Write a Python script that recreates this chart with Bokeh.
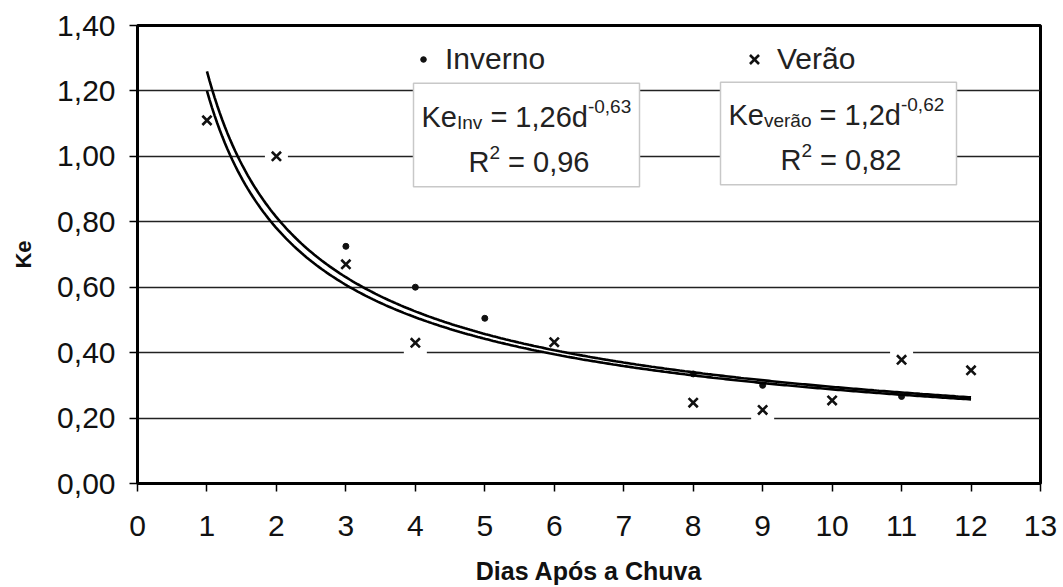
import numpy as np
from bokeh.plotting import figure
from bokeh.models import Range1d, FixedTicker, CustomJSTickFormatter, Legend, LegendItem, Label
from bokeh.embed import file_html
from bokeh.resources import INLINE

# ---------------- data ----------------
dias_inverno = [3, 4, 5, 8, 9, 11]
ke_inverno = [0.725, 0.60, 0.505, 0.335, 0.30, 0.266]
dias_verao = [1, 2, 3, 4, 6, 8, 9, 10, 11, 12]
ke_verao = [1.11, 1.00, 0.67, 0.43, 0.432, 0.247, 0.225, 0.254, 0.378, 0.346]
x_ticks = list(range(0, 14))
y_ticks = [0.0, 0.2, 0.4, 0.6, 0.8, 1.0, 1.2, 1.4]
# trendline equations shown on the chart: Ke = a * d^b
coef_inv = (1.26, -0.63)
coef_ver = (1.2, -0.62)
trend_range = (1, 12)
eq_inv = ("Ke", "Inv", " = 1,26d", "-0,63")
eq_ver = ("Ke", "verão", " = 1,2d", "-0,62")
r2_inv = " = 0,96"
r2_ver = " = 0,82"

FONT = "Liberation Sans"

# ---------------- layout geometry ----------------
W, H = 1063, 587
L, R, T, B = 137, 1040, 25, 485   # frame edges in canvas pixels

p = figure(width=W, height=H, output_backend="svg", toolbar_location=None,
           x_range=Range1d(0, 13), y_range=Range1d(0, 1.4),
           min_border_left=L, min_border_right=W - R, min_border_top=T,
           min_border_bottom=H - B)
p.background_fill_color = "white"
p.border_fill_color = "white"
p.outline_line_color = "black"
p.outline_line_width = 3

def px2x(px):
    return (px - L) / (R - L) * 13.0

def py2y(py):
    return (B - py) / (B - T) * 1.4

# axes
p.xaxis.ticker = FixedTicker(ticks=x_ticks)
p.yaxis.ticker = FixedTicker(ticks=y_ticks)
p.yaxis.formatter = CustomJSTickFormatter(code="return tick.toFixed(2).replace('.', ',');")
for ax in (p.xaxis, p.yaxis):
    ax.axis_line_width = 3
    ax.axis_line_color = "black"
    ax.major_tick_line_color = "black"
    ax.major_tick_line_width = 1.5
    ax.major_tick_in = 0
    ax.major_tick_out = 8
    ax.minor_tick_line_color = None
    ax.major_label_text_font = FONT
    ax.major_label_text_font_size = "30px"
    ax.major_label_text_color = "#111111"
    ax.axis_label_text_font = FONT
    ax.axis_label_text_font_style = "bold"
    ax.axis_label_text_color = "#111111"
p.xaxis.axis_label = "Dias Após a Chuva"
p.yaxis.axis_label = "Ke"
p.xaxis.axis_label_text_font_size = "25px"
p.yaxis.axis_label_text_font_size = "22px"
p.xaxis.major_label_standoff = 24
p.yaxis.major_label_standoff = 14
p.xaxis.axis_label_standoff = 18
p.yaxis.axis_label_standoff = 18

p.xgrid.grid_line_color = None
p.ygrid.grid_line_color = "#222222"
p.ygrid.grid_line_width = 1.6

# white halos behind the summer markers
p.scatter(dias_verao, ke_verao, marker="square", size=23, fill_color="white",
          line_color=None)

# winter points
r_inv = p.scatter(dias_inverno, ke_inverno, marker="circle", size=6,
                  fill_color="#111111", line_color="#111111")

# trendlines from the stated equations
d = np.linspace(trend_range[0], trend_range[1], 300)
p.line(d, coef_inv[0] * d ** coef_inv[1], line_color="black", line_width=2.6)
p.line(d, coef_ver[0] * d ** coef_ver[1], line_color="black", line_width=2.6)

# summer points
r_ver = p.scatter(dias_verao, ke_verao, marker="x", size=13, line_color="#111111",
                  line_width=2.6)

# legends (two, so each marker gets its own size)
common = dict(orientation="horizontal", padding=0, margin=0,
              label_text_font=FONT, label_text_font_size="30px",
              label_text_color="#222222", background_fill_alpha=0,
              border_line_alpha=0)
leg1 = Legend(items=[LegendItem(label="Inverno", renderers=[r_inv])],
              location=(279, 407), glyph_width=14, glyph_height=14,
              label_standoff=15, **common)
leg2 = Legend(items=[LegendItem(label="Verão", renderers=[r_ver])],
              location=(601, 407), glyph_width=32, glyph_height=32,
              label_standoff=7, **common)
p.add_layout(leg1)
p.add_layout(leg2)

# equation boxes
boxes = [(413, 639, 83, 187), (720, 956, 82, 185)]
for (bl, br, bt, bb) in boxes:
    p.quad(left=px2x(bl), right=px2x(br), top=py2y(bt), bottom=py2y(bb),
           fill_color="white", line_color="#c8c8c8", line_width=1.5)

# simple Arial/Liberation Sans advance widths (em/1000)
AW = {" ": 278, "=": 584, ",": 278, "-": 333, "K": 667, "e": 556, "I": 278, "n": 556,
      "v": 500, "d": 556, "r": 333, "ã": 556, "o": 556, "R": 722, "V": 667, "a": 556}
def tw(s, size):
    return sum(AW.get(c, 556) for c in s) / 1000.0 * size

MAIN, SMALL = 29, 19

def label(px, py, text, size):
    # SVG collapses leading blanks: advance manually
    lead = len(text) - len(text.lstrip(" "))
    px += tw(" " * lead, size)
    p.add_layout(Label(x=px2x(px), y=py2y(py), text=text.lstrip(" "), text_font=FONT,
                       text_font_size=f"{size}px", text_color="#222222",
                       text_align="left", text_baseline="alphabetic"))

def eq_line(start, base, parts):
    ke, sub, mid, sup = parts
    x = start
    label(x, base, ke, MAIN); x += tw(ke, MAIN)
    label(x, base + 5, sub, SMALL); x += tw(sub, SMALL)
    label(x, base, mid, MAIN); x += tw(mid, MAIN)
    label(x, base - 11, sup, SMALL)

def r2_line(start, base, rest):
    x = start
    label(x, base, "R", MAIN); x += tw("R", MAIN)
    label(x, base - 9, "2", SMALL); x += tw("2", SMALL)
    label(x, base, rest, MAIN)

eq_line(421, 117, eq_inv)
r2_line(468, 162, r2_inv)
eq_line(728, 115, eq_ver)
r2_line(780, 160, r2_ver)

open("out.html", "w").write(file_html(p, INLINE))
